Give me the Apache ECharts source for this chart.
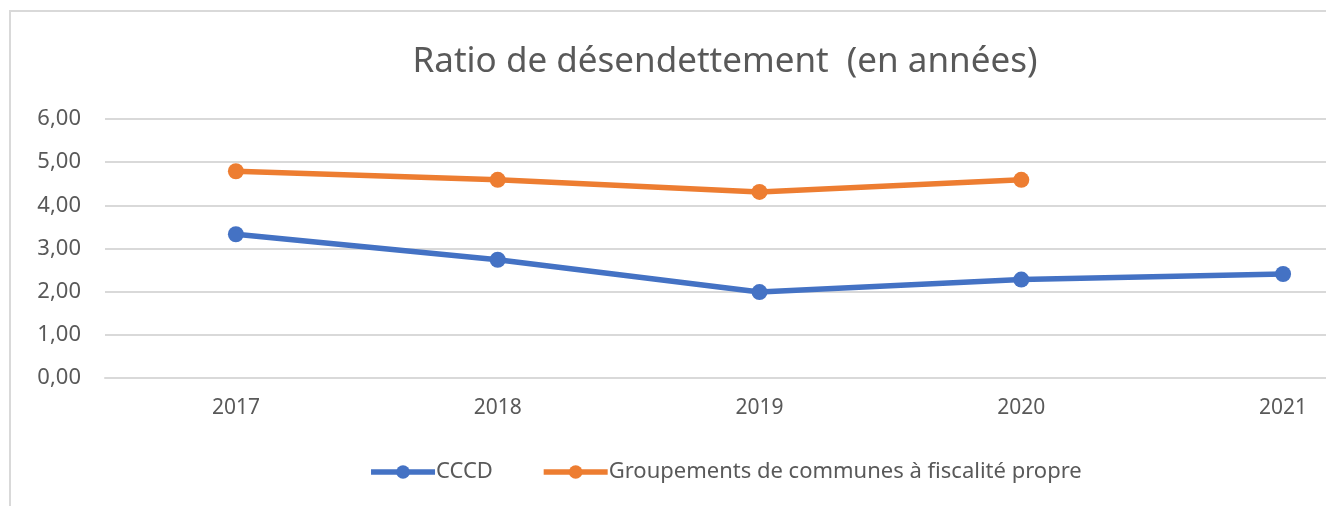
<!DOCTYPE html>
<html>
<head>
<meta charset="utf-8">
<script src="https://cdn.jsdelivr.net/npm/echarts@6/dist/echarts.min.js"></script>
<style>
  html, body { margin: 0; padding: 0; background: #fff; overflow: hidden; width: 1326px; height: 506px; }
  #main { position: absolute; left: 9px; top: 10px; width: 1432px; height: 520px; border: 2px solid #d9d9d9; box-sizing: border-box; }
</style>
</head>
<body>
<div id="main"></div>
<script>
// données
const annees = ['2017', '2018', '2019', '2020', '2021']
const cccd = [3.33, 2.74, 1.99, 2.28, 2.41]
const groupements = [4.79, 4.59, 4.31, 4.59, null]

const myChart = echarts.init(document.getElementById('main'))
const police = '"Noto Sans", "Open Sans", sans-serif'

myChart.setOption({
    animation: false,
    title: {
        text: 'Ratio de désendettement  (en années)',
        left: 'center',
        top: 28,
        textStyle: { fontFamily: police, fontSize: 35, fontWeight: 'normal', color: '#595959' }
    },
    legend: {
        top: 444,
        left: 'center',
        itemWidth: 64,
        itemHeight: 17,
        itemGap: 48,
        lineStyle: { width: 5.5 },
        textStyle: { fontFamily: police, fontSize: 22, color: '#595959', padding: [0, 0, 0, -4] },
        data: ['CCCD', 'Groupements de communes à fiscalité propre']
    },
    grid: { left: 94, top: 107, width: 1309, height: 259 },
    xAxis: {
        type: 'category',
        data: annees,
        axisLine: { lineStyle: { color: '#d9d9d9', width: 2 } },
        axisTick: { show: false },
        axisLabel: { fontFamily: police, fontSize: 21, color: '#595959', margin: 20 }
    },
    yAxis: {
        type: 'value',
        min: 0,
        max: 6,
        interval: 1,
        axisLine: { show: false },
        axisTick: { show: false },
        splitLine: { lineStyle: { color: '#d9d9d9', width: 2 } },
        axisLabel: {
            fontFamily: police, fontSize: 22, color: '#595959', margin: 24,
            formatter: v => v.toFixed(2).replace('.', ',')
        }
    },
    series: [
        {
            name: 'CCCD',
            type: 'line',
            data: cccd,
            symbol: 'circle',
            symbolSize: 16,
            lineStyle: { width: 5.5, color: '#4472c4' },
            itemStyle: { color: '#4472c4' }
        },
        {
            name: 'Groupements de communes à fiscalité propre',
            type: 'line',
            data: groupements,
            symbol: 'circle',
            symbolSize: 16,
            lineStyle: { width: 5.5, color: '#ed7d31' },
            itemStyle: { color: '#ed7d31' }
        }
    ]
})
</script>
</body>
</html>
